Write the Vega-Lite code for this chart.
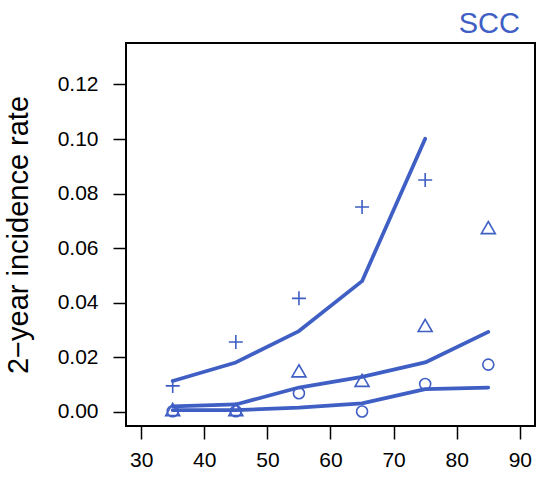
{
  "$schema": "https://vega.github.io/schema/vega-lite/v6.json",
  "width": 409,
  "height": 383,
  "autosize": {"type": "none"},
  "padding": {"left": 126, "top": 43, "right": 5, "bottom": 54},
  "background": "white",
  "title": {"text": "SCC", "anchor": "end", "frame": "group", "color": "#3F5FC4", "fontSize": 29, "fontWeight": "normal", "font": "Liberation Sans", "baseline": "alphabetic", "offset": 8, "dx": -15, "dy": 27},
  "config": {
    "view": {"stroke": "black", "strokeWidth": 2},
    "font": "Liberation Sans",
    "axis": {"domain": false, "grid": false, "tickColor": "black", "tickWidth": 1.5, "tickSize": 13, "labelFont": "Liberation Sans", "labelFontSize": 21, "labelColor": "black", "labelFlush": false, "labelOverlap": false, "titleFont": "Liberation Sans", "titleFontWeight": "normal", "titleColor": "black"}
  },
  "datasets": {
    "lines": [
      {"age": 35, "rate": 0.0113, "group": "A"},
      {"age": 45, "rate": 0.0181, "group": "A"},
      {"age": 55, "rate": 0.0296, "group": "A"},
      {"age": 65, "rate": 0.0479, "group": "A"},
      {"age": 75, "rate": 0.1001, "group": "A"},
      {"age": 35, "rate": 0.0020, "group": "B"},
      {"age": 45, "rate": 0.0027, "group": "B"},
      {"age": 55, "rate": 0.0089, "group": "B"},
      {"age": 65, "rate": 0.0128, "group": "B"},
      {"age": 75, "rate": 0.0181, "group": "B"},
      {"age": 85, "rate": 0.0293, "group": "B"},
      {"age": 35, "rate": 0.0006, "group": "C"},
      {"age": 45, "rate": 0.0006, "group": "C"},
      {"age": 55, "rate": 0.0015, "group": "C"},
      {"age": 65, "rate": 0.0031, "group": "C"},
      {"age": 75, "rate": 0.0083, "group": "C"},
      {"age": 85, "rate": 0.0089, "group": "C"}
    ],
    "plus": [
      {"age": 35, "rate": 0.0095},
      {"age": 45, "rate": 0.0256},
      {"age": 55, "rate": 0.0416},
      {"age": 65, "rate": 0.0751},
      {"age": 75, "rate": 0.0850}
    ],
    "triangle": [
      {"age": 35, "rate": 0.0001},
      {"age": 45, "rate": 0.0001},
      {"age": 55, "rate": 0.0143},
      {"age": 65, "rate": 0.0108},
      {"age": 75, "rate": 0.0309},
      {"age": 85, "rate": 0.0668}
    ],
    "circle": [
      {"age": 35, "rate": 0.0002},
      {"age": 45, "rate": 0.0002},
      {"age": 55, "rate": 0.0068},
      {"age": 65, "rate": 0.0001},
      {"age": 75, "rate": 0.0102},
      {"age": 85, "rate": 0.0173}
    ]
  },
  "encoding": {
    "x": {"field": "age", "type": "quantitative", "scale": {"domain": [27.6, 92.4], "nice": false, "zero": false}, "axis": {"values": [30, 40, 50, 60, 70, 80, 90], "title": null, "labelPadding": 10}},
    "y": {"field": "rate", "type": "quantitative", "scale": {"domain": [-0.0052, 0.1352], "nice": false, "zero": false}, "axis": {"values": [0, 0.02, 0.04, 0.06, 0.08, 0.1, 0.12], "format": ".2f", "title": "2\u2212year incidence rate", "titleFontSize": 29, "titlePadding": 24, "labelPadding": 15}}
  },
  "layer": [
    {"data": {"name": "lines"}, "mark": {"type": "line", "color": "#3F5FC4", "strokeWidth": 3.75, "strokeCap": "round", "strokeJoin": "round"}, "encoding": {"detail": {"field": "group", "type": "nominal"}}},
    {"data": {"name": "plus"}, "mark": {"type": "point", "filled": false, "color": "#3F5FC4", "strokeWidth": 1.6, "shape": "M-1,0H1M0,-1V1", "size": 196, "opacity": 1}},
    {"data": {"name": "triangle"}, "mark": {"type": "point", "filled": false, "color": "#3F5FC4", "strokeWidth": 1.6, "shape": "M0,-1L0.866,0.5L-0.866,0.5Z", "size": 261, "opacity": 1}},
    {"data": {"name": "circle"}, "mark": {"type": "point", "filled": false, "color": "#3F5FC4", "strokeWidth": 1.6, "shape": "circle", "size": 121, "opacity": 1}}
  ]
}
